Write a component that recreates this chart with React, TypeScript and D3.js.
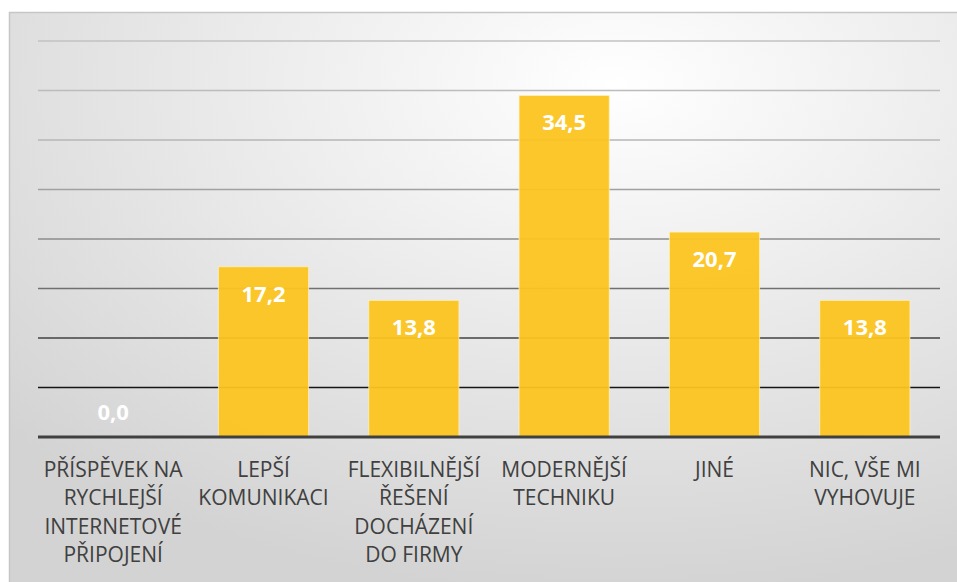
import * as d3 from "d3"

const categories = [
  ["PŘÍSPĚVEK NA", "RYCHLEJŠÍ", "INTERNETOVÉ", "PŘIPOJENÍ"],
  ["LEPŠÍ", "KOMUNIKACI"],
  ["FLEXIBILNĚJŠÍ", "ŘEŠENÍ", "DOCHÁZENÍ", "DO FIRMY"],
  ["MODERNĚJŠÍ", "TECHNIKU"],
  ["JINÉ"],
  ["NIC, VŠE MI", "VYHOVUJE"],
]
const values = [0.0, 17.2, 13.8, 34.5, 20.7, 13.8]
const yTicks = [5, 10, 15, 20, 25, 30, 35, 40]

const WIDTH = 957
const HEIGHT = 582
const MARGIN = { left: 38, right: 17, top: 41, bottom: 145 }
const BAR = "#fcc420"
const FONT = "'Open Sans', sans-serif"

export default function App() {
  const x = d3
    .scaleBand<number>()
    .domain(d3.range(categories.length))
    .range([MARGIN.left, WIDTH - MARGIN.right])
    .paddingInner(0.4)
    .paddingOuter(0.2)
  const y = d3.scaleLinear().domain([0, 40]).range([HEIGHT - MARGIN.bottom, MARGIN.top])
  // grid gets darker towards the bottom
  const gridColor = d3
    .scaleLinear<string>()
    .domain([5, 10, 15, 20, 30, 40])
    .range(["#151515", "#424242", "#707070", "#8c8c8c", "#b6b6b6", "#c2c2c2"])

  const fmt = (v: number) => v.toFixed(1).replace(".", ",")

  return (
    <div style={{ position: "absolute", left: 0, top: 0 }}>
      <svg width={WIDTH} height={HEIGHT} style={{ display: "block" }}>
        <defs>
          <radialGradient id="bg" cx="0.62" cy="0.12" r="0.85" fx="0.62" fy="0.12">
            <stop offset="0" stopColor="#ffffff" />
            <stop offset="1" stopColor="#d3d3d3" />
          </radialGradient>
        </defs>
        <rect x={0} y={0} width={WIDTH} height={HEIGHT} fill="#ffffff" />
        <rect
          x={9.5}
          y={12.5}
          width={WIDTH + 20}
          height={HEIGHT + 20}
          fill="url(#bg)"
          stroke="#c6c6c6"
          strokeWidth={1.5}
        />
        {yTicks.map((t) => (
          <line
            key={t}
            x1={MARGIN.left}
            x2={WIDTH - MARGIN.right}
            y1={y(t)}
            y2={y(t)}
            stroke={gridColor(t)}
            strokeWidth={1.5}
          />
        ))}
        {values.map((v, i) => (
          <rect
            key={i}
            x={x(i)}
            y={y(v)}
            width={x.bandwidth()}
            height={y(0) - y(v)}
            fill={BAR}
            fillOpacity={0.95}
            stroke="#fff3c4"
            strokeOpacity={0.7}
            strokeWidth={1}
          />
        ))}
        <line
          x1={MARGIN.left}
          x2={WIDTH - MARGIN.right}
          y1={y(0)}
          y2={y(0)}
          stroke="#404040"
          strokeWidth={3}
        />
        {values.map((v, i) => (
          <text
            key={i}
            x={(x(i) ?? 0) + x.bandwidth() / 2}
            y={v === 0 ? y(0) - 17 : y(v) + 35}
            textAnchor="middle"
            fill="#ffffff"
            fontFamily={FONT}
            fontWeight={700}
            fontSize={22}
          >
            {fmt(v)}
          </text>
        ))}
        {categories.map((lines, i) => (
          <text
            key={i}
            x={(x(i) ?? 0) + x.bandwidth() / 2}
            y={477}
            textAnchor="middle"
            fill="#404040"
            fontFamily={FONT}
            fontSize={21}
          >
            {lines.map((l, j) => (
              <tspan key={j} x={(x(i) ?? 0) + x.bandwidth() / 2} dy={j === 0 ? 0 : 28.3}>
                {l}
              </tspan>
            ))}
          </text>
        ))}
      </svg>
    </div>
  )
}
